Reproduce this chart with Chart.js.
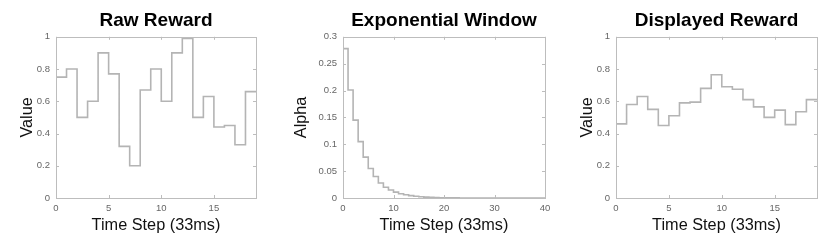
<!DOCTYPE html>
<html><head><meta charset="utf-8">
<script src="https://cdn.jsdelivr.net/npm/chart.js@4.4.0/dist/chart.umd.min.js"></script>
<style>
html,body{margin:0;padding:0;background:#fff;width:830px;height:241px;overflow:hidden;position:relative;}
canvas{position:absolute;top:0;}
</style></head>
<body>
<canvas id="c1"></canvas>
<canvas id="c2"></canvas>
<canvas id="c3"></canvas>
<script>
// ---- data ----
const rawReward = [0.75, 0.80, 0.50, 0.60, 0.90, 0.77, 0.32, 0.20, 0.67, 0.80, 0.60, 0.90, 0.99, 0.50, 0.63, 0.44, 0.45, 0.33, 0.66];
const expWindow = [0.278, 0.201, 0.145, 0.105, 0.076, 0.055, 0.040, 0.028, 0.020, 0.015, 0.011, 0.008, 0.006, 0.0045, 0.0033, 0.0024, 0.0017, 0.0012, 0.0009, 0.0006, 0.0004, 0.0003, 0.0002, 0.0001, 0, 0, 0, 0, 0, 0, 0, 0, 0, 0, 0, 0, 0, 0, 0, 0];
const displayedReward = [0.46, 0.58, 0.63, 0.55, 0.45, 0.51, 0.59, 0.595, 0.68, 0.765, 0.69, 0.675, 0.61, 0.565, 0.50, 0.545, 0.455, 0.535, 0.61];
const titles = ["Raw Reward", "Exponential Window", "Displayed Reward"];
const yLabels = ["Value", "Alpha", "Value"];
const xLabel = "Time Step (33ms)";

const FONT = "'Liberation Sans', Arial, sans-serif";
const LINE = '#b4b4b4';
const FRAME = '#bdbdbd';

function stepPoints(vals) {
  const pts = vals.map((v, i) => ({x: i, y: v}));
  pts.push({x: vals.length, y: vals[vals.length - 1]});
  return pts;
}

function onStep(step) {
  return s => {
    s.ticks = s.ticks.filter(t => Math.abs(t.value / step - Math.round(t.value / step)) < 1e-6);
  };
}
const fmt = v => String(+(+v).toFixed(3));

const framePlugin = {
  id: 'frame',
  afterDatasetsDraw(chart) {
    const {ctx, chartArea: a, scales} = chart;
    ctx.save();
    ctx.strokeStyle = FRAME;
    ctx.lineWidth = 1;
    ctx.strokeRect(Math.round(a.left) + 0.5, Math.round(a.top) + 0.5, Math.round(a.right - a.left), Math.round(a.bottom - a.top));
    const L = 3;
    ctx.beginPath();
    scales.x.ticks.forEach(t => {
      const px = Math.round(scales.x.getPixelForValue(t.value)) + 0.5;
      ctx.moveTo(px, a.bottom); ctx.lineTo(px, a.bottom - L);
      ctx.moveTo(px, a.top); ctx.lineTo(px, a.top + L);
    });
    scales.y.ticks.forEach(t => {
      const py = Math.round(scales.y.getPixelForValue(t.value)) + 0.5;
      ctx.moveTo(a.left, py); ctx.lineTo(a.left + L, py);
      ctx.moveTo(a.right, py); ctx.lineTo(a.right - L, py);
    });
    ctx.stroke();
    ctx.restore();
  }
};

function makeChart(id, left, sideW, plotW, vals, xMax, xStep, yMax, yStep, title, yLabel) {
  const cv = document.getElementById(id);
  const w = sideW * 2 + plotW;
  cv.width = w; cv.height = 241;
  cv.style.width = w + 'px'; cv.style.height = '241px';
  cv.style.left = left + 'px';
  new Chart(cv, {
    type: 'line',
    data: {datasets: [{
      data: stepPoints(vals),
      stepped: 'before',
      borderColor: LINE,
      borderWidth: 1.6,
      pointRadius: 0,
      fill: false,
      clip: false
    }]},
    options: {
      responsive: false,
      animation: false,
      devicePixelRatio: 1,
      layout: {padding: 0},
      plugins: {
        legend: {display: false},
        tooltip: {enabled: false},
        title: {
          display: true, text: title, color: '#000',
          font: {family: FONT, size: 19, weight: 'bold', lineHeight: 1.2},
          padding: {top: 9, bottom: 5}
        }
      },
      scales: {
        x: {
          type: 'linear', min: 0, max: xMax,
          afterFit: s => { s.height = 43; },
          afterBuildTicks: onStep(xStep),
          ticks: {stepSize: xStep, color: '#666', font: {family: FONT, size: 9.5}, padding: 5, maxRotation: 0, callback: fmt},
          grid: {display: false, drawTicks: false},
          border: {display: false},
          title: {display: true, text: xLabel, color: '#111', font: {family: FONT, size: 16.3, lineHeight: 1.2}, padding: {top: 0, bottom: 6}}
        },
        y: {
          type: 'linear', min: 0, max: yMax, position: 'left',
          afterFit: s => { s.width = sideW; },
          afterBuildTicks: onStep(yStep),
          ticks: {stepSize: yStep, color: '#666', font: {family: FONT, size: 9.5}, padding: 6, callback: fmt},
          grid: {display: false, drawTicks: false},
          border: {display: false},
          title: {display: true, text: yLabel, color: '#111', font: {family: FONT, size: 16.3, lineHeight: 1.2}, padding: {top: 2.5, bottom: 0}}
        },
        yr: {
          type: 'linear', position: 'right', min: 0, max: 1,
          afterFit: s => { s.width = sideW; },
          ticks: {display: false},
          grid: {display: false, drawTicks: false},
          border: {display: false}
        }
      }
    },
    plugins: [framePlugin]
  });
}

makeChart('c1', 15, 41, 200, rawReward, rawReward.length, 5, 1, 0.2, titles[0], yLabels[0]);
makeChart('c2', 289, 54, 202, expWindow, expWindow.length, 10, 0.3, 0.05, titles[1], yLabels[1]);
makeChart('c3', 575, 41, 201, displayedReward, displayedReward.length, 5, 1, 0.2, titles[2], yLabels[2]);
</script>
</body></html>
